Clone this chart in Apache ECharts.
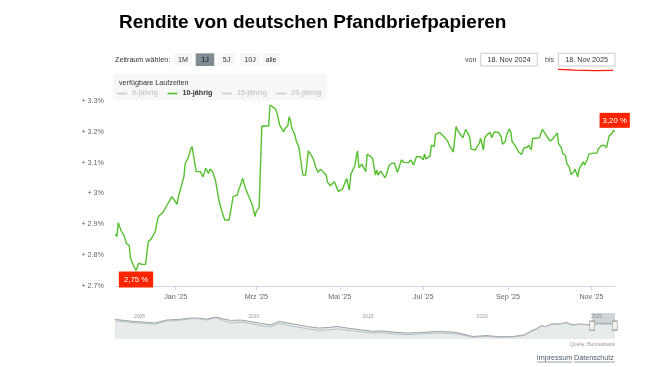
<!DOCTYPE html>
<html><head><meta charset="utf-8">
<script src="https://cdn.jsdelivr.net/npm/echarts@6/dist/echarts.min.js"></script>
<style>html,body{margin:0;padding:0;background:#fff;}#c{width:653px;height:367px;}</style>
</head><body><div id="c"></div>
<script>
const chartTitle = 'Rendite von deutschen Pfandbriefpapieren';
const rangeLabel = 'Zeitraum wählen:';
const rangeButtons = ['1M', '1J', '5J', '10J', 'alle'];
const selectedButton = '1J';
const fromDate = '18. Nov 2024';
const toDate = '18. Nov 2025';
const legendTitle = 'verfügbare Laufzeiten';
const legendNames = ['5-jährig', '10-jährig', '15-jährig', '20-jährig'];
const activeSeries = '10-jährig';
const sourceText = 'Quelle: Bundesbank';
const footerLinks = ['Impressum', 'Datenschutz'];
const monthNames = ['Jan', 'Feb', 'Mrz', 'Apr', 'Mai', 'Jun', 'Jul', 'Aug', 'Sep', 'Okt', 'Nov', 'Dez'];
const xTickDates = ['2025-01-01', '2025-03-01', '2025-05-01', '2025-07-01', '2025-09-01', '2025-11-01'];
const xRange = ['2024-11-18', '2025-11-18'];
const yRange = [2.7, 3.3];
const yStep = 0.1;

// 10-jährig, daily-ish readings
const dates = [
'2024-11-18','2024-11-19','2024-11-20','2024-11-21','2024-11-22','2024-11-24','2024-11-26','2024-11-28','2024-11-29',
'2024-12-01','2024-12-03','2024-12-04','2024-12-05','2024-12-07','2024-12-08','2024-12-10','2024-12-11','2024-12-12','2024-12-14','2024-12-15','2024-12-16','2024-12-17','2024-12-19','2024-12-20','2024-12-23','2024-12-25','2024-12-28','2024-12-29','2024-12-31',
'2025-01-02','2025-01-03','2025-01-05','2025-01-07','2025-01-08','2025-01-10','2025-01-12','2025-01-13','2025-01-14','2025-01-16','2025-01-19','2025-01-20','2025-01-21','2025-01-23','2025-01-25','2025-01-26','2025-01-28','2025-01-29','2025-01-30',
'2025-02-01','2025-02-02','2025-02-03','2025-02-05','2025-02-06','2025-02-09','2025-02-11','2025-02-12','2025-02-13','2025-02-15','2025-02-16','2025-02-17','2025-02-18','2025-02-19','2025-02-21','2025-02-23','2025-02-24','2025-02-26','2025-02-27','2025-02-28',
'2025-03-01','2025-03-03','2025-03-04','2025-03-05','2025-03-10','2025-03-11','2025-03-13','2025-03-15','2025-03-16','2025-03-17','2025-03-18','2025-03-21','2025-03-22','2025-03-24','2025-03-25','2025-03-26','2025-03-27','2025-03-29','2025-03-30',
'2025-04-01','2025-04-02','2025-04-04','2025-04-06','2025-04-08','2025-04-10','2025-04-12','2025-04-13','2025-04-15','2025-04-16','2025-04-17','2025-04-19','2025-04-21','2025-04-22','2025-04-24','2025-04-25','2025-04-27','2025-04-28','2025-04-30',
'2025-05-01','2025-05-03','2025-05-06','2025-05-07','2025-05-08','2025-05-09','2025-05-10','2025-05-12','2025-05-13','2025-05-14','2025-05-15','2025-05-17','2025-05-18','2025-05-20','2025-05-21','2025-05-23','2025-05-25','2025-05-27','2025-05-28','2025-05-29','2025-05-31',
'2025-06-01','2025-06-03','2025-06-04','2025-06-06','2025-06-08','2025-06-10','2025-06-12','2025-06-13','2025-06-15','2025-06-17','2025-06-20','2025-06-22','2025-06-24','2025-06-26','2025-06-29',
'2025-07-01','2025-07-02','2025-07-03','2025-07-06','2025-07-07','2025-07-09','2025-07-10','2025-07-13','2025-07-15','2025-07-17','2025-07-19','2025-07-20','2025-07-23','2025-07-25','2025-07-26','2025-07-28','2025-07-30',
'2025-08-01','2025-08-03','2025-08-04','2025-08-05','2025-08-06','2025-08-08','2025-08-09','2025-08-11','2025-08-12','2025-08-14','2025-08-15','2025-08-17','2025-08-19','2025-08-20','2025-08-22','2025-08-25','2025-08-27','2025-08-28','2025-08-30','2025-08-31',
'2025-09-02','2025-09-03','2025-09-04','2025-09-06','2025-09-08','2025-09-09','2025-09-11','2025-09-12','2025-09-13','2025-09-15','2025-09-16','2025-09-18','2025-09-19','2025-09-22','2025-09-24','2025-09-26','2025-09-28','2025-09-30',
'2025-10-01','2025-10-02','2025-10-04','2025-10-06','2025-10-07','2025-10-08','2025-10-10','2025-10-11','2025-10-13','2025-10-14','2025-10-16','2025-10-17','2025-10-19','2025-10-20','2025-10-22','2025-10-23','2025-10-25','2025-10-26','2025-10-27','2025-10-29','2025-10-30',
'2025-11-02','2025-11-05','2025-11-06','2025-11-08','2025-11-10','2025-11-12','2025-11-13','2025-11-14','2025-11-16','2025-11-17','2025-11-18'
];
const values = [
2.868,2.860,2.905,2.910,2.880,2.865,2.838,2.831,2.790,
2.768,2.750,2.752,2.774,2.770,2.766,2.770,2.766,2.844,2.852,2.860,2.855,2.876,2.920,2.928,2.941,2.957,2.979,2.990,2.979,
2.965,2.990,3.022,3.054,3.098,3.114,3.144,3.152,3.158,3.071,3.071,3.067,3.054,3.082,3.065,3.079,3.071,3.071,3.044,
2.995,2.970,2.968,2.925,2.914,2.914,2.963,2.990,2.984,2.995,3.011,3.022,3.025,3.049,3.017,2.995,2.990,2.963,2.963,2.925,
2.943,2.954,2.960,3.219,3.219,3.287,3.281,3.274,3.263,3.268,3.222,3.200,3.211,3.220,3.249,3.235,3.211,3.192,3.173,
3.152,3.147,3.060,3.060,3.138,3.125,3.109,3.090,3.069,3.071,3.079,3.069,3.060,3.038,3.025,3.030,3.038,3.028,3.006,
3.001,3.015,3.049,3.028,3.011,3.062,3.071,3.090,3.119,3.138,3.084,3.095,3.098,3.071,3.127,3.122,3.114,3.060,3.076,3.060,3.073,
3.076,3.051,3.060,3.090,3.098,3.098,3.069,3.079,3.109,3.101,3.100,3.109,3.092,3.119,3.119,
3.109,3.128,3.112,3.122,3.157,3.152,3.192,3.198,3.190,3.181,3.168,3.157,3.134,3.217,3.206,3.192,3.181,
3.208,3.192,3.181,3.144,3.147,3.141,3.144,3.163,3.179,3.141,3.181,3.192,3.198,3.181,3.200,3.198,3.184,3.160,3.168,3.190,
3.209,3.200,3.168,3.157,3.141,3.134,3.127,3.141,3.149,3.149,3.157,3.141,3.179,3.179,3.181,3.208,3.195,3.181,
3.187,3.170,3.179,3.190,3.197,3.160,3.149,3.130,3.123,3.098,3.084,3.062,3.069,3.079,3.054,3.079,3.095,3.103,3.092,3.111,3.127,
3.131,3.131,3.144,3.155,3.157,3.149,3.149,3.187,3.195,3.205,3.200
];

// navigator history (two maturities)
const navDates = [
'2004-01-01','2004-06-01','2004-11-01','2005-04-01','2005-10-01','2006-04-01','2006-10-01','2007-05-01','2007-08-01','2008-01-01',
'2008-06-01','2008-10-01','2009-02-01','2009-07-01','2009-12-01','2010-06-01','2010-11-01','2011-03-01','2011-08-01','2012-01-01',
'2012-06-01','2012-12-01','2013-05-01','2013-10-01','2014-03-01','2014-10-01','2015-05-01','2015-08-01','2016-03-01','2016-10-01',
'2017-05-01','2018-02-01','2018-11-01','2019-04-01','2019-09-01','2020-04-01','2020-11-01','2021-06-01','2021-12-01','2022-03-01',
'2022-07-01','2022-09-01','2022-11-01','2023-02-01','2023-07-01','2023-10-01','2024-01-01','2024-05-01','2024-11-01','2025-03-01',
'2025-07-01','2025-11-18'
];
const navHigh = [
4.26,3.99,3.72,3.56,3.29,4.10,4.26,4.64,4.64,4.37,
4.91,4.37,3.99,4.10,3.72,3.18,2.83,3.72,3.29,2.83,
2.37,1.94,2.10,2.37,1.94,1.48,1.02,1.21,0.86,0.59,
0.75,1.02,0.86,0.32,-0.33,-0.06,-0.41,-0.33,0.13,1.02,
1.94,2.64,2.37,3.02,3.10,3.45,2.83,3.02,2.87,3.25,
3.15,3.20
];
const navLow = [
3.90,3.65,3.35,3.20,3.00,3.80,4.00,4.45,4.50,4.10,
4.75,3.95,3.30,3.50,3.20,2.55,2.30,3.20,2.70,2.20,
1.75,1.30,1.45,1.70,1.35,0.95,0.55,0.75,0.40,0.15,
0.35,0.60,0.45,0.00,-0.50,-0.30,-0.55,-0.45,-0.05,0.85,
1.80,2.55,2.30,2.95,3.05,3.35,2.70,2.95,2.75,3.10,
3.00,3.05
];
const navYears = ['2005-01-01', '2010-01-01', '2015-01-01', '2020-01-01', '2025-01-01'];
const navRange = ['2004-01-01', '2025-11-18'];
const navYRange = [-1, 6];

const FONT = 'Liberation Sans, Arial, Helvetica, sans-serif';
const ts = s => { const p = s.split('-').map(Number); return Date.UTC(p[0], p[1] - 1, p[2]); };
const fmtPct = v => v.toFixed(2).replace('.', ',') + ' %';
const lastIdx = values.length - 1;

const chart = echarts.init(document.getElementById('c'), null, {renderer: 'canvas'});

function txt(text, x, y, opts) {
  return {
    type: 'text', x: x, y: y, silent: true,
    style: Object.assign({text: text, fill: '#333', fontSize: 7.2, fontFamily: FONT, align: 'left', verticalAlign: 'middle'}, opts || {})
  };
}

const graphics = [];
graphics.push(txt(rangeLabel, 115, 60));
const btnGeom = [[174, 18], [195.7, 18.6], [218, 17], [240, 20], [262, 18]];
rangeButtons.forEach((b, i) => {
  const bx = btnGeom[i][0], bw = btnGeom[i][1];
  const sel = b === selectedButton;
  graphics.push({type: 'rect', silent: true, shape: {x: bx, y: 53.3, width: bw, height: 12.7},
    style: {fill: sel ? '#7f8d93' : '#f7f7f7'}});
  graphics.push(txt(b, bx + bw / 2, 59.8, {align: 'center', fill: sel ? '#111' : '#333'}));
});
graphics.push(txt('von', 465, 60, {fill: '#555'}));
graphics.push({type: 'rect', silent: true, shape: {x: 480.7, y: 53.3, width: 56.6, height: 12.7}, style: {fill: '#fff', stroke: '#cccccc', lineWidth: 1}});
graphics.push(txt(fromDate, 509, 60, {align: 'center'}));
graphics.push(txt('bis', 545, 60, {fill: '#555'}));
graphics.push({type: 'rect', silent: true, shape: {x: 558.3, y: 53.3, width: 56.7, height: 12.7}, style: {fill: '#fff', stroke: '#cccccc', lineWidth: 1}});
graphics.push(txt(toDate, 586.7, 60, {align: 'center'}));
graphics.push({type: 'polyline', silent: true, shape: {points: [[558, 69.3], [575, 70.2], [595, 70.6], [613, 70.4]]},
  style: {stroke: '#ff1a00', lineWidth: 1.3, fill: null}});
graphics.push({type: 'rect', silent: true, z: -1, shape: {x: 113.3, y: 74, width: 213.4, height: 26.5}, style: {fill: '#f7f7f7'}});
graphics.push(txt(legendTitle, 119, 83.3));
graphics.push(txt(sourceText, 615, 344.5, {align: 'right', fill: '#999', fontSize: 5}));
graphics.push(txt(footerLinks[0], 536.7, 358.3, {fill: '#4b5a67'}));
graphics.push(txt(footerLinks[1], 574, 358.3, {fill: '#4b5a67'}));
graphics.push({type: 'line', silent: true, shape: {x1: 536.7, y1: 362, x2: 572.2, y2: 362}, style: {stroke: '#7d8a95', lineWidth: 0.8}});
graphics.push({type: 'line', silent: true, shape: {x1: 574, y1: 362, x2: 615, y2: 362}, style: {stroke: '#7d8a95', lineWidth: 0.8}});

const mainData = dates.map((d, i) => [ts(d), values[i]]);
const navHighData = navDates.map((d, i) => [ts(d), navHigh[i]]);
const navLowData = navDates.map((d, i) => [ts(d), navLow[i]]);

const legendSelected = {};
legendNames.forEach(n => legendSelected[n] = (n === activeSeries));

const series = legendNames.map(n => {
  if (n !== activeSeries) {
    return {name: n, type: 'line', xAxisIndex: 0, yAxisIndex: 0, data: [], showSymbol: false, color: '#7cb5ec'};
  }
  return {
    name: n, type: 'line', xAxisIndex: 0, yAxisIndex: 0, data: mainData,
    showSymbol: false, symbol: 'none', color: '#55c02f',
    lineStyle: {width: 1.4, color: '#55c02f'},
    markPoint: {
      symbol: 'circle', symbolSize: 0, silent: true,
      label: {show: true, formatter: p => fmtPct(p.value), backgroundColor: '#ff2400', color: '#fff',
        padding: [4, 5, 4, 5], fontSize: 7.8, fontFamily: FONT},
      data: [
        {type: 'min', label: {position: 'bottom', distance: 1}},
        {coord: [ts(dates[lastIdx]), values[lastIdx]], value: values[lastIdx],
          label: {position: 'top', distance: 4, padding: [4, 3, 3, 3]}}
      ]
    }
  };
});

series.push({
  name: 'navHigh', type: 'line', xAxisIndex: 1, yAxisIndex: 1, data: navHighData,
  showSymbol: false, symbol: 'none', silent: true,
  lineStyle: {width: 0.9, color: '#8e989c'},
  areaStyle: {color: '#e8ebec', opacity: 1, origin: 'start'},
  markArea: {silent: true, itemStyle: {color: 'rgba(110,125,132,0.33)'},
    data: [[{xAxis: ts(xRange[0])}, {xAxis: ts(xRange[1])}]]}
});
series.push({
  name: 'navLow', type: 'line', xAxisIndex: 1, yAxisIndex: 1, data: navLowData,
  showSymbol: false, symbol: 'none', silent: true,
  lineStyle: {width: 0.9, color: '#b3bbbe'},
  markPoint: {silent: true, symbol: 'rect', symbolSize: [5, 9],
    itemStyle: {color: '#f2f2f2', borderColor: '#9a9a9a', borderWidth: 0.8},
    label: {show: false},
    data: [{coord: [ts(xRange[0]), 2.6]}, {coord: [ts(xRange[1]), 2.6]}]}
});

const option = {
  animation: false,
  backgroundColor: '#ffffff',
  textStyle: {fontFamily: FONT},
  title: {
    text: chartTitle, left: 119, top: 13.5, padding: 0,
    textStyle: {fontSize: 19, fontWeight: 'bold', color: '#000', fontFamily: FONT}
  },
  legend: {
    data: legendNames, left: 117, top: 90, padding: 0,
    icon: 'rect', itemWidth: 10, itemHeight: 1.6, itemGap: 9.5,
    selected: legendSelected, inactiveColor: '#cccccc',
    textStyle: {fontSize: 7.2, fontWeight: 'bold', color: '#333', fontFamily: FONT}
  },
  grid: [
    {left: 115.5, top: 101, width: 499.2, height: 185},
    {left: 115, top: 313, width: 500, height: 26}
  ],
  xAxis: [
    {
      type: 'value', gridIndex: 0, min: ts(xRange[0]), max: ts(xRange[1]),
      axisLine: {show: true, lineStyle: {color: '#ccd6eb', width: 1}},
      axisTick: {show: true, length: 4, customValues: xTickDates.map(ts), lineStyle: {color: '#ccd6eb'}},
      splitLine: {show: false},
      axisLabel: {
        customValues: xTickDates.map(ts), fontSize: 7.2, color: '#666', margin: 8,
        formatter: v => { const d = new Date(v); return monthNames[d.getUTCMonth()] + " '" + String(d.getUTCFullYear()).slice(2); }
      }
    },
    {
      type: 'value', gridIndex: 1, min: ts(navRange[0]), max: ts(navRange[1]), position: 'top',
      axisLine: {show: false}, axisTick: {show: false}, splitLine: {show: false},
      axisLabel: {
        inside: true, customValues: navYears.map(ts), fontSize: 5, color: '#999', margin: 1,
        align: 'left', padding: [0, 0, 0, -4],
        formatter: v => String(new Date(v).getUTCFullYear())
      }
    }
  ],
  yAxis: [
    {
      type: 'value', gridIndex: 0, min: yRange[0], max: yRange[1], interval: yStep,
      axisLine: {show: false}, axisTick: {show: false}, splitLine: {show: false},
      axisLabel: {fontSize: 7.2, color: '#666', margin: 11.5,
        formatter: v => '+ ' + (Math.round(v * 10) / 10) + '%'}
    },
    {type: 'value', gridIndex: 1, min: navYRange[0], max: navYRange[1], show: false}
  ],
  graphic: graphics,
  series: series
};
chart.setOption(option);
</script>
</body></html>
